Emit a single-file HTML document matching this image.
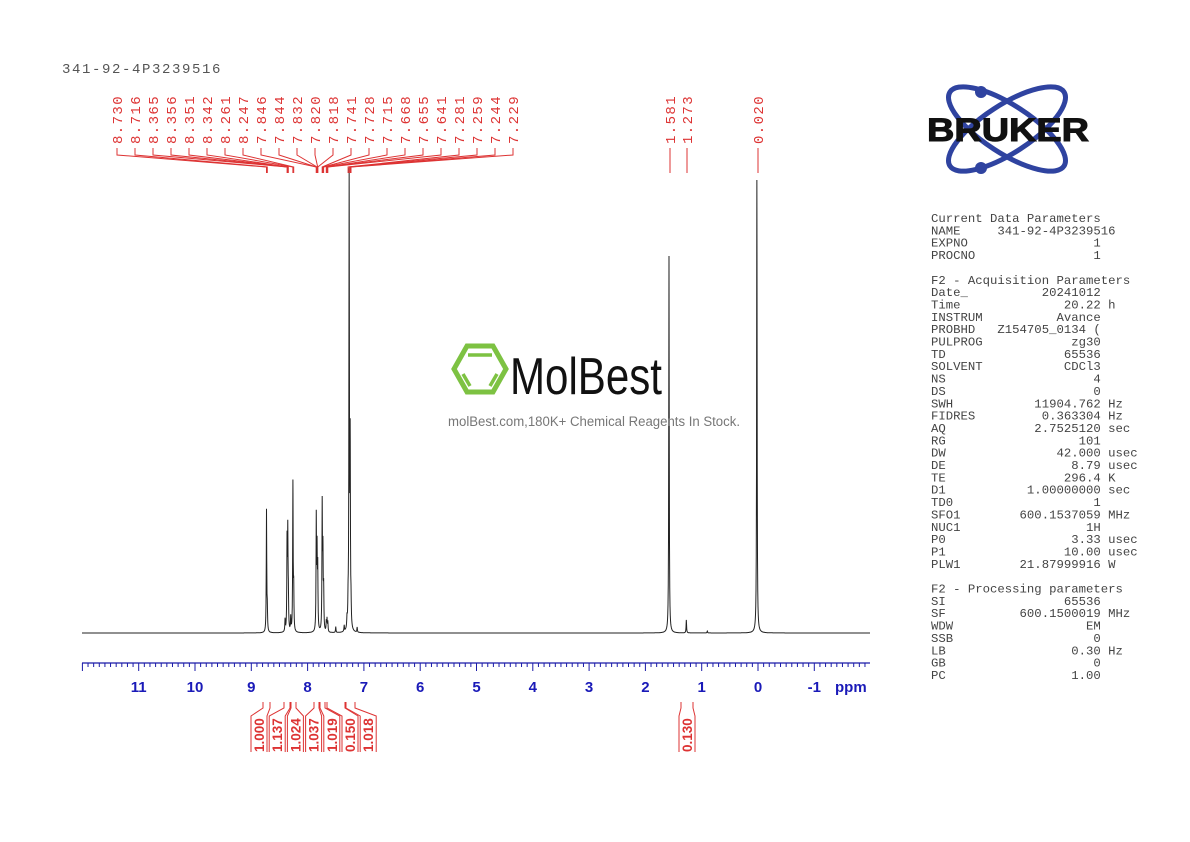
<!DOCTYPE html>
<html><head><meta charset="utf-8"><style>
html,body{margin:0;padding:0;background:#fff;}
svg{display:block}
</style></head><body>
<svg id="s" width="1190" height="842" xmlns="http://www.w3.org/2000/svg">
<rect width="1190" height="842" fill="#fff"/>
<text x="62" y="73" font-family="Liberation Mono, monospace" font-size="14" letter-spacing="1.6" fill="#555">341-92-4P3239516</text>
<g id="g"></g>
<g fill="none" stroke="#2f43a0" stroke-width="5">
<ellipse cx="1007" cy="129" rx="68" ry="24" transform="rotate(33 1007 129)"/>
<ellipse cx="1007" cy="129" rx="68" ry="24" transform="rotate(-33 1007 129)"/>
</g>
<circle cx="981" cy="92" r="6" fill="#2f43a0"/><circle cx="981" cy="168" r="6" fill="#2f43a0"/>
<text x="1008" y="141" text-anchor="middle" font-family="Liberation Sans, sans-serif" font-weight="bold" font-size="32" fill="#111" stroke="#111" stroke-width="1" textLength="162" lengthAdjust="spacingAndGlyphs">BRUKER</text>
<g fill="none" stroke="#7dc242">
<polygon points="467,346 493,346 506,369 493,392 467,392 454,369" stroke-width="5"/>
<line x1="468" y1="355" x2="492" y2="355" stroke-width="3.5"/>
<line x1="463" y1="374" x2="470" y2="386" stroke-width="3.5"/>
<line x1="497" y1="374" x2="490" y2="386" stroke-width="3.5"/>
</g>
<text x="510" y="394" font-family="Liberation Sans, sans-serif" font-size="52" fill="#111" textLength="152" lengthAdjust="spacingAndGlyphs">MolBest</text>
<text x="448" y="426" font-family="Liberation Sans, sans-serif" font-size="13.5" fill="#777" textLength="292" lengthAdjust="spacingAndGlyphs">molBest.com,180K+ Chemical Reagents In Stock.</text>
<text font-family="Liberation Mono, monospace" font-size="12.3" fill="#444" xml:space="preserve" id="par"></text>
</svg>
<script>
var NS="http://www.w3.org/2000/svg",g=document.getElementById('g');
function el(t,a,txt){var e=document.createElementNS(NS,t);for(var k in a)e.setAttribute(k,a[k]);if(txt!=null)e.textContent=txt;g.appendChild(e);return e;}
function X(p){return 758-56.3*p;}
var base=633,peaks=[[8.730,122],[8.716,20],[8.365,88],[8.352,95],[8.342,30],[8.40,12],[8.30,14],[8.261,148],[8.247,40],[7.846,112],[7.832,75],[7.820,60],[7.741,125],[7.728,75],[7.715,40],[7.668,10],[7.655,12],[7.641,10],[7.50,6],[7.35,6],[7.30,10],[7.281,20],[7.262,450],[7.244,180],[7.229,20],[7.12,5],[1.581,377],[1.273,13],[0.90,2],[0.020,453]];
var w=0.005;
var xs=[];for(var x=82;x<=870;x+=0.25)xs.push(x);
peaks.forEach(function(p){xs.push(X(p[0]));});
xs.sort(function(a,b){return a-b;});
var d="";
xs.forEach(function(x){var p=(758-x)/56.3,y=0;for(var i=0;i<peaks.length;i++){var q=(p-peaks[i][0])/w;y+=peaks[i][1]/(1+q*q);}d+=(d?"L":"M")+x.toFixed(2)+" "+(base-y).toFixed(1);});
el('path',{d:d,fill:'none',stroke:'#222','stroke-width':'1'});
el('line',{x1:82,y1:663,x2:870,y2:663,stroke:'#1a1aa8','stroke-width':'1.3'});
for(var k=-20;k<=120;k++){var p=k/10,x=X(p);if(x<82||x>870.5)continue;var maj=(k%10==0);el('line',{x1:x,y1:663,x2:x,y2:maj?671:667,stroke:'#1a1aa8','stroke-width':'1'});}
for(var n=-1;n<=11;n++){el('text',{x:X(n),y:692,'text-anchor':'middle','font-family':'Liberation Sans, sans-serif','font-weight':'bold','font-size':'15',fill:'#1a1ab8'},String(n));}
el('text',{x:835,y:692,'font-family':'Liberation Sans, sans-serif','font-weight':'bold','font-size':'15',fill:'#1a1ab8'},'ppm');
var labs=["8.730","8.716","8.365","8.356","8.351","8.342","8.261","8.247","7.846","7.844","7.832","7.820","7.818","7.741","7.728","7.715","7.668","7.655","7.641","7.281","7.259","7.244","7.229"];
var LF={'font-family':'Liberation Mono, monospace','font-size':'14','letter-spacing':'1.4',fill:'#d33'};
function lab(lx,s){var a={x:0,y:0,transform:'translate('+(lx+5)+',144) rotate(-90)'};for(var k in LF)a[k]=LF[k];el('text',a,s);}
labs.forEach(function(s,i){var lx=117+18*i,tx=X(parseFloat(s));lab(lx,s);
el('path',{d:'M'+lx+' 148L'+lx+' 155L'+tx.toFixed(1)+' 167L'+tx.toFixed(1)+' 173',fill:'none',stroke:'#d33','stroke-width':'1'});});
["1.581","1.273","0.020"].forEach(function(s,i){var lx=[670,687,758][i];lab(lx,s);
el('path',{d:'M'+lx+' 148L'+lx+' 173',fill:'none',stroke:'#d33','stroke-width':'1'});});
var ints=["1.000","1.137","1.024","1.037","1.019","0.150","1.018"];
var tops=[[263,270],[284,290],[291,296],[314,319],[320,325],[327,345],[346,355]];
ints.forEach(function(s,i){var lx=259+18.2*i;
el('text',{x:0,y:0,transform:'translate('+(lx+5)+',752) rotate(-90)','font-family':'Liberation Sans, sans-serif','font-weight':'bold','font-size':'13.5',fill:'#d33'},s);
var l=lx-8,r=lx+8,t=tops[i];
el('path',{d:'M'+t[0]+' 702L'+t[0]+' 708L'+l+' 716L'+l+' 752',fill:'none',stroke:'#d33','stroke-width':'1'});
el('path',{d:'M'+t[1]+' 702L'+t[1]+' 708L'+r+' 716L'+r+' 752',fill:'none',stroke:'#d33','stroke-width':'1'});});
el('text',{x:0,y:0,transform:'translate(692,752) rotate(-90)','font-family':'Liberation Sans, sans-serif','font-weight':'bold','font-size':'13.5',fill:'#d33'},"0.130");
el('path',{d:'M681 702L681 708L679 716L679 752M693 702L693 708L695 716L695 752',fill:'none',stroke:'#d33','stroke-width':'1'});
var P=[["Current Data Parameters"],["NAME     341-92-4P3239516"],["EXPNO","1"],["PROCNO","1"],null,
["F2 - Acquisition Parameters"],["Date_","20241012"],["Time","20.22","h"],["INSTRUM","Avance"],["PROBHD","Z154705_0134 ("],["PULPROG","zg30"],["TD","65536"],["SOLVENT","CDCl3"],["NS","4"],["DS","0"],["SWH","11904.762","Hz"],["FIDRES","0.363304","Hz"],["AQ","2.7525120","sec"],["RG","101"],["DW","42.000","usec"],["DE","8.79","usec"],["TE","296.4","K"],["D1","1.00000000","sec"],["TD0","1"],["SFO1","600.1537059","MHz"],["NUC1","1H"],["P0","3.33","usec"],["P1","10.00","usec"],["PLW1","21.87999916","W"],null,
["F2 - Processing parameters"],["SI","65536"],["SF","600.1500019","MHz"],["WDW","EM"],["SSB","0"],["LB","0.30","Hz"],["GB","0"],["PC","1.00"]];
var par=document.getElementById('par'),y=222;
P.forEach(function(r){if(!r){y+=12.35;return;}var s;
if(r.length==1)s=r[0];else{s=r[0];var v=r[1];while(s.length+v.length<23)s+=" ";s+=v;if(r[2])s+=" "+r[2];}
var t=document.createElementNS(NS,'tspan');t.setAttribute('x',931);t.setAttribute('y',y);t.textContent=s;par.appendChild(t);y+=12.35;});
</script>
</body></html>
